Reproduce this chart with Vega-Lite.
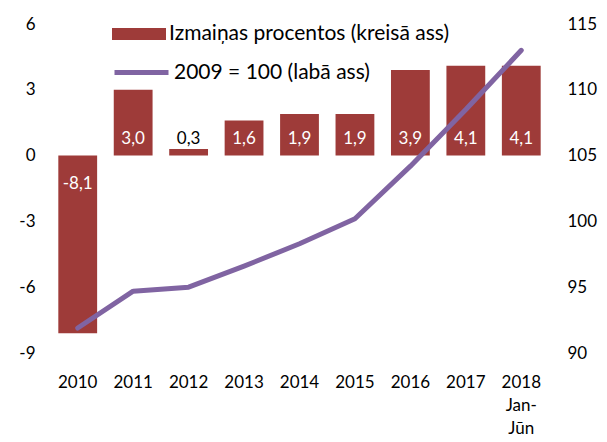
{
  "$schema": "https://vega.github.io/schema/vega-lite/v6.json",
  "width": 499,
  "height": 329,
  "autosize": {"type": "none"},
  "padding": {"left": 50, "top": 24, "right": 58, "bottom": 89},
  "background": "white",
  "config": {
    "view": {"stroke": null},
    "font": "Lato",
    "locale": {"number": {"decimal": ",", "thousands": " ", "grouping": [3], "currency": ["", ""], "minus": "-"}},
    "axis": {"domain": false, "ticks": false, "grid": false, "labelFont": "Lato", "labelFontSize": 17, "labelColor": "#000000", "title": null},
    "legend": {"labelFont": "Lato", "labelFontSize": 21, "labelColor": "#000000", "title": null, "labelLimit": 500}
  },
  "data": {
    "values": [
      {"year": "2010", "pct": -8.1, "idx": 91.9},
      {"year": "2011", "pct": 3.0, "idx": 94.7},
      {"year": "2012", "pct": 0.3, "idx": 95.0},
      {"year": "2013", "pct": 1.6, "idx": 96.6},
      {"year": "2014", "pct": 1.9, "idx": 98.3},
      {"year": "2015", "pct": 1.9, "idx": 100.2},
      {"year": "2016", "pct": 3.9, "idx": 104.2},
      {"year": "2017", "pct": 4.1, "idx": 108.5},
      {"year": "2018|Jan-|Jūn", "pct": 4.1, "idx": 113.0}
    ]
  },
  "encoding": {
    "x": {
      "field": "year", "type": "nominal", "sort": null,
      "scale": {"paddingInner": 0.3, "paddingOuter": 0.15},
      "axis": {"labelAngle": 0, "labelPadding": 21, "labelLineHeight": 23, "labelBaseline": "top", "labelExpr": "split(datum.value, '|')"}
    }
  },
  "layer": [
    {
      "layer": [
        {
          "mark": {"type": "bar", "color": "#9E3B39"},
          "encoding": {
            "y": {"field": "pct", "type": "quantitative", "scale": {"domain": [-9, 6], "nice": false, "zero": false},
              "axis": {"orient": "left", "values": [-9, -6, -3, 0, 3, 6], "labelPadding": 15, "format": "d"}},
            "fill": {"datum": "Izmaiņas procentos (kreisā ass)", "type": "nominal",
              "scale": {"range": ["#9E3B39"]},
              "legend": {"orient": "none", "legendX": 62, "legendY": -17, "symbolType": "M-1,-0.22H1V0.22H-1Z", "symbolSize": 2916, "symbolStrokeWidth": 0, "labelOffset": 3}}
          }
        },
        {
          "mark": {"type": "rule", "color": "#BFBFBF", "strokeWidth": 1.5},
          "encoding": {"y": {"datum": 0, "type": "quantitative"}}
        },
        {
          "transform": [{"filter": "datum.pct >= 0"}],
          "mark": {"type": "text", "fontSize": 17, "baseline": "middle", "dy": -17, "font": "Lato"},
          "encoding": {
            "y": {"datum": 0, "type": "quantitative"},
            "text": {"field": "pct", "type": "quantitative", "format": ".1f"},
            "color": {"condition": {"test": "datum.pct < 1", "value": "#000000"}, "value": "#FFFFFF"}
          }
        },
        {
          "transform": [{"filter": "datum.pct < 0"}],
          "mark": {"type": "text", "fontSize": 17, "baseline": "middle", "dy": 28, "font": "Lato", "color": "#FFFFFF"},
          "encoding": {
            "y": {"datum": 0, "type": "quantitative"},
            "text": {"field": "pct", "type": "quantitative", "format": ".1f"}
          }
        }
      ]
    },
    {
      "mark": {"type": "line", "strokeWidth": 5, "strokeCap": "round", "strokeJoin": "round"},
      "encoding": {
        "y": {"field": "idx", "type": "quantitative", "scale": {"domain": [90, 115], "nice": false, "zero": false},
          "axis": {"orient": "right", "values": [90, 95, 100, 105, 110, 115], "labelPadding": 18, "labelAlign": "left"}},
        "stroke": {"datum": "2009 = 100 (labā ass)", "type": "nominal",
          "scale": {"range": ["#8064A2"]},
          "legend": {"orient": "none", "legendX": 62, "legendY": 19, "symbolType": "M-1,0H1", "symbolSize": 2916, "symbolStrokeWidth": 5, "labelOffset": 3}}
      }
    }
  ],
  "resolve": {"scale": {"y": "independent"}}
}
